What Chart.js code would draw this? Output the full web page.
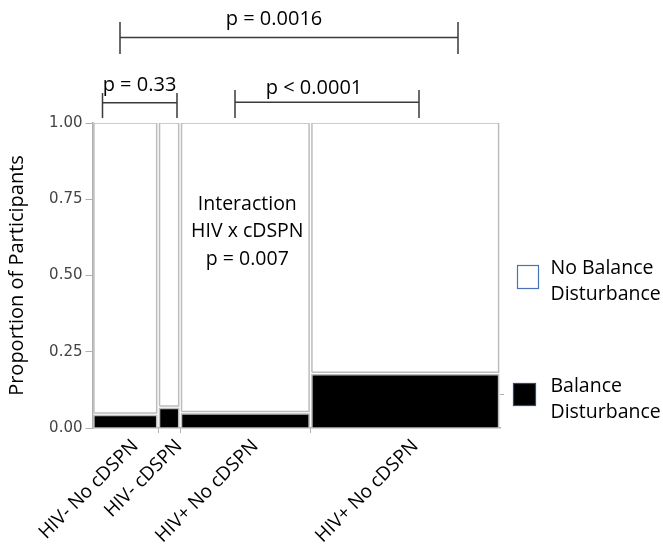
<!DOCTYPE html>
<html><head><meta charset="utf-8">
<script src="https://cdn.jsdelivr.net/npm/chart.js@4"></script>
<style>html,body{margin:0;padding:0;background:#fff;}canvas{display:block}</style>
</head><body>
<canvas id="c" width="663" height="556"></canvas>
<script>
// ---- data ----
const groups = ['HIV- No cDSPN', 'HIV- cDSPN', 'HIV+ No cDSPN', 'HIV+ No cDSPN'];
const groupShare = [0.161, 0.054, 0.320, 0.465];
const balanceDisturbance = [0.045, 0.068, 0.050, 0.179];
const noBalanceDisturbance = [0.955, 0.932, 0.950, 0.821];
const yTickValues = [0, 0.25, 0.5, 0.75, 1];
const seriesNames = ['No Balance Disturbance', 'Balance Disturbance'];
const comparisonLabels = ['p = 0.0016', 'p = 0.33', 'p < 0.0001'];
const interactionLines = ['Interaction', 'HIV x cDSPN', 'p = 0.007'];

// ---- derived ----
const starts = [];
let acc = 0;
groupShare.forEach(s => { starts.push(acc); acc += s; });
const ends = starts.map((s, i) => s + groupShare[i]);
const centers = starts.map((s, i) => s + groupShare[i] / 2);
const boundaries = ends.slice(0, -1);
const overall = groupShare.reduce((t, s, i) => t + s * balanceDisturbance[i], 0);

const GX = 0.0035, GY = 0.004;
function rect(x0, x1, y0, y1) {
  return [{x:x0,y:y0},{x:x1,y:y0},{x:x1,y:y1},{x:x0,y:y1},{x:x0,y:y0}];
}
const CELL_BORDER = '#bcbcbc';
const datasets = [];
groups.forEach((g, i) => {
  const x0 = starts[i] + GX, x1 = ends[i] - GX;
  datasets.push({
    label: seriesNames[1] + ' – ' + g,
    data: rect(x0, x1, 0, balanceDisturbance[i] - GY),
    showLine: true, fill: 'shape', backgroundColor: '#000', borderColor: CELL_BORDER,
    borderWidth: 1.5, pointRadius: 0, tension: 0
  });
  datasets.push({
    label: seriesNames[0] + ' – ' + g,
    data: rect(x0, x1, balanceDisturbance[i] + GY, balanceDisturbance[i] + noBalanceDisturbance[i]),
    showLine: true, fill: 'shape', backgroundColor: '#fff', borderColor: CELL_BORDER,
    borderWidth: 1.5, pointRadius: 0, tension: 0
  });
});

const AXIS = '#b0b0b0';
const LABEL_FONT = '"Open Sans", Lato, sans-serif';

const annotate = {
  id: 'annotate',
  afterDraw(chart) {
    const ctx = chart.ctx;
    const xs = chart.scales.x;
    ctx.save();
    // brackets
    ctx.strokeStyle = '#3a3a3a';
    ctx.lineWidth = 1.5;
    function bracket(xa, xb, y, yt, yb) {
      ctx.beginPath();
      ctx.moveTo(xa, y); ctx.lineTo(xb, y);
      ctx.moveTo(xa, yt); ctx.lineTo(xa, yb);
      ctx.moveTo(xb, yt); ctx.lineTo(xb, yb);
      ctx.stroke();
    }
    bracket(120, 458, 37.5, 22, 54);
    bracket(102.5, 177, 102.7, 93, 118);
    bracket(235, 419, 102.3, 90, 118);

    ctx.fillStyle = '#000';
    ctx.font = '20px ' + LABEL_FONT;
    ctx.textAlign = 'center';
    ctx.textBaseline = 'middle';
    ctx.fillText(comparisonLabels[0], 274, 19);
    ctx.fillText(comparisonLabels[1], 139.5, 85);
    ctx.fillText(comparisonLabels[2], 314, 88.5);

    // interaction text
    ctx.font = '19.5px ' + LABEL_FONT;
    const ix = xs.getPixelForValue(centers[2]) + 2;
    interactionLines.forEach((t, k) => ctx.fillText(t, ix, 204 + k * 27.5));

    // legend
    ctx.textAlign = 'left';
    ctx.lineWidth = 1.2;
    ctx.strokeStyle = '#4a72b8';
    ctx.fillStyle = '#fff';
    ctx.fillRect(517.5, 265.5, 21, 23);
    ctx.strokeRect(517.5, 265.5, 21, 23);
    ctx.fillStyle = '#000';
    ctx.strokeStyle = '#2c4a86';
    ctx.fillRect(513.5, 383.5, 22, 22);
    ctx.strokeRect(513.5, 383.5, 22, 22);
    ctx.fillStyle = '#000';
    ctx.fillText('No Balance', 550.5, 268.5);
    ctx.fillText('Disturbance', 550.5, 294.5);
    ctx.fillText('Balance', 550.5, 386);
    ctx.fillText('Disturbance', 550.5, 412);
    ctx.restore();
  }
};

new Chart(document.getElementById('c'), {
  type: 'scatter',
  data: { datasets },
  options: {
    responsive: false,
    animation: false,
    events: [],
    layout: { padding: { top: 123, bottom: 0, left: 0, right: 0 } },
    plugins: { legend: { display: false }, tooltip: { enabled: false } },
    scales: {
      x: {
        type: 'linear', min: 0, max: 1,
        afterBuildTicks(scale) {
          scale.ticks = centers.map(v => ({ value: v })).concat(boundaries.map(v => ({ value: v })));
        },
        afterFit(scale) { scale.height = 128; },
        ticks: {
          autoSkip: false, minRotation: 45, maxRotation: 45,
          labelOffset: 10, padding: 2,
          color: '#000', font: { family: LABEL_FONT, size: 19 },
          callback(v, i) { return i < groups.length ? groups[i] : ''; }
        },
        grid: {
          drawOnChartArea: false, tickLength: 5,
          tickColor(ctx) { return ctx.index < groups.length ? 'rgba(0,0,0,0)' : AXIS; }
        },
        border: { color: AXIS, width: 1.5 }
      },
      y: {
        min: 0, max: 1,
        afterBuildTicks(scale) { scale.ticks = yTickValues.map(v => ({ value: v })); },
        afterFit(scale) { scale.width = 92.5; },
        ticks: {
          padding: 3, color: '#444',
          font: { family: '"DejaVu Sans", "Liberation Sans", sans-serif', size: 15 },
          callback(v) { return v.toFixed(2); }
        },
        grid: { drawOnChartArea: false, tickLength: 7, tickColor: AXIS },
        border: { color: AXIS, width: 1.5 },
        title: {
          display: true, text: 'Proportion of Participants', color: '#000',
          font: { family: LABEL_FONT, size: 20 }, padding: { top: 5, bottom: 0 }
        }
      },
      y2: {
        position: 'right', min: 0, max: 1,
        afterBuildTicks(scale) { scale.ticks = [{ value: overall }]; },
        afterFit(scale) { scale.width = 163; },
        ticks: { callback() { return ''; } },
        grid: { drawOnChartArea: false, tickLength: 4, tickColor: AXIS },
        border: { display: false }
      }
    }
  },
  plugins: [annotate]
});
</script>
</body></html>
